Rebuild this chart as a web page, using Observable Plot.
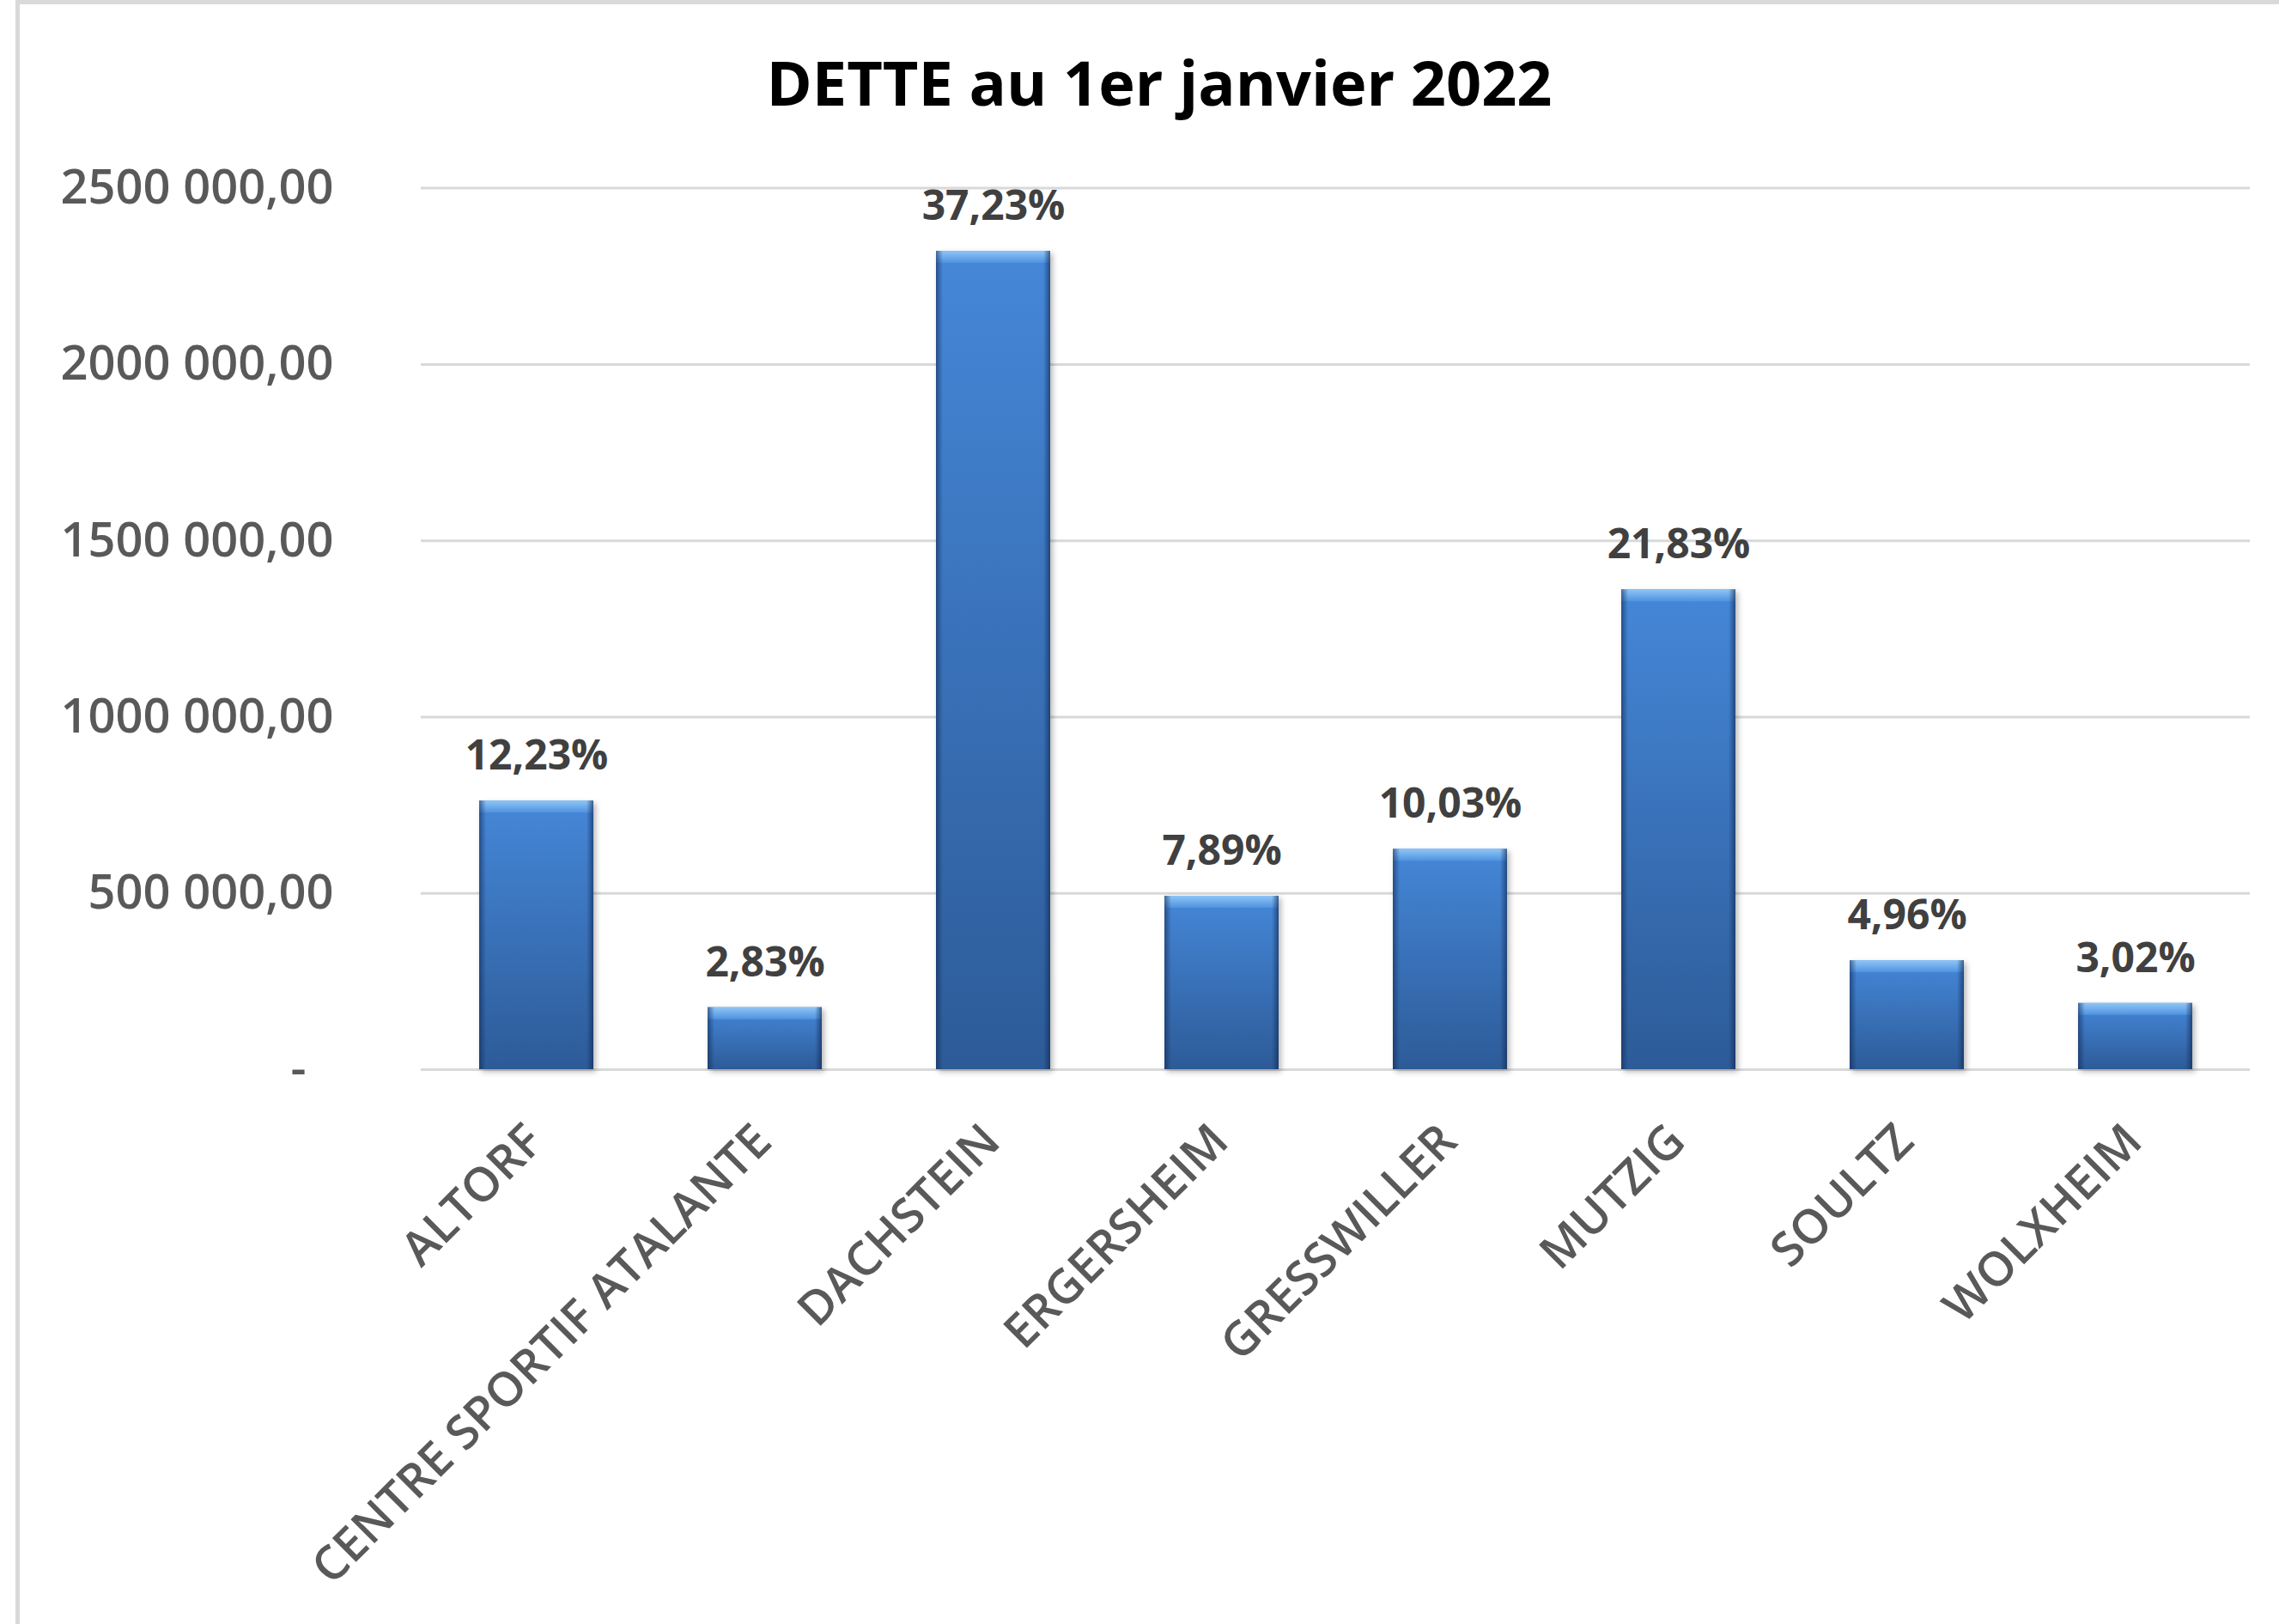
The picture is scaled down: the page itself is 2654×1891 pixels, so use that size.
<!DOCTYPE html>
<html>
<head>
<meta charset="utf-8">
<script src="https://cdn.jsdelivr.net/npm/d3@7"></script>
<script src="https://cdn.jsdelivr.net/npm/@observablehq/plot@0.6"></script>
<style>
  html, body { margin: 0; padding: 0; background: #fff; }
  #wrap { position: relative; width: 2654px; height: 1891px; background: #fff; overflow: hidden; font-family: "Open Sans", sans-serif; }
  #frame { position: absolute; left: 18px; top: 0; width: 2700px; height: 1886px; border-left: 5px solid #d9d9d9; border-top: 5px solid #d9d9d9; border-bottom: 3px solid #e3e3e3; }
  #title { position: relative; height: 150px; }
  #title span { position: absolute; left: 1350px; top: 59px; transform: translateX(-50%); font-size: 72px; line-height: 72px; font-weight: 700; color: #000; white-space: nowrap; }
  #chart svg { display: block; }
  .mainbar rect { filter: drop-shadow(3px 3px 3px rgba(0,0,0,0.28)); }
</style>
</head>
<body>
<div id="wrap">
  <div id="frame"></div>
  <div id="title"><span>DETTE au 1er janvier 2022</span></div>
  <div id="chart"></div>
</div>
<script>
const categories = ["ALTORF", "CENTRE SPORTIF ATALANTE", "DACHSTEIN", "ERGERSHEIM", "GRESSWILLER", "MUTZIG", "SOULTZ", "WOLXHEIM"];
const values = [762000, 176000, 2321000, 492000, 625000, 1361000, 309000, 188000];
const shares = ["12,23%", "2,83%", "37,23%", "7,89%", "10,03%", "21,83%", "4,96%", "3,02%"];
const yTicks = [0, 500000, 1000000, 1500000, 2000000, 2500000];

const data = categories.map((c, i) => ({category: c, value: values[i], share: shares[i]}));

function fmt(d) {
  if (d === 0) return "-\u2007";
  const s = String(d);
  return s.slice(0, -3) + " " + s.slice(-3) + ",00";
}

const plot = Plot.plot({
  width: 2654,
  height: 1741,
  marginTop: 68.6,
  marginBottom: 646,
  marginLeft: 490,
  marginRight: 34,
  style: {fontFamily: "Open Sans, sans-serif", background: "transparent"},
  x: {domain: categories, paddingInner: 0.5, paddingOuter: 0.25, axis: null},
  y: {domain: [0, 2500000], axis: null},
  marks: [
    Plot.ruleY(yTicks, {stroke: "#d9d9d9", strokeWidth: 3}),
    Plot.axisY({ticks: yTicks, tickSize: 0, tickPadding: 102, tickFormat: fmt, fontSize: 56, fontWeight: 600, color: "#595959", label: null}),
    Plot.barY(data, {x: "category", y: "value", fill: "url(#barGrad)", className: "mainbar"}),
    Plot.barY(data, {x: "category", y1: "value", y2: "value", insetBottom: -14, fill: "url(#bevelGrad)"}),
    Plot.barY(data, {x: "category", y: "value", fill: "url(#sideGrad)"}),
    Plot.text(data, {x: "category", y: "value", text: "share", dy: -52, lineAnchor: "middle", fontSize: 48, fontWeight: "bold", fill: "#404040"}),
    Plot.text(data, {x: "category", frameAnchor: "bottom", text: "category", rotate: -45, textAnchor: "end", lineAnchor: "middle", dx: -2, dy: 74, fontSize: 55, fontWeight: 600, fill: "#595959"})
  ]
});

plot.insertAdjacentHTML("afterbegin", `
<defs>
  <linearGradient id="barGrad" x1="0" y1="0" x2="0" y2="1">
    <stop offset="0" stop-color="#4587d8"/>
    <stop offset="1" stop-color="#2d5b98"/>
  </linearGradient>
  <linearGradient id="bevelGrad" x1="0" y1="0" x2="0" y2="1">
    <stop offset="0" stop-color="#8fc6f6"/>
    <stop offset="1" stop-color="#4f92e0"/>
  </linearGradient>
  <linearGradient id="sideGrad" x1="0" y1="0" x2="1" y2="0">
    <stop offset="0" stop-color="#102a55" stop-opacity="0.6"/>
    <stop offset="0.06" stop-color="#102a55" stop-opacity="0"/>
    <stop offset="0.94" stop-color="#102a55" stop-opacity="0"/>
    <stop offset="1" stop-color="#102a55" stop-opacity="0.65"/>
  </linearGradient>
</defs>`);

document.getElementById("chart").appendChild(plot);
</script>
</body>
</html>
